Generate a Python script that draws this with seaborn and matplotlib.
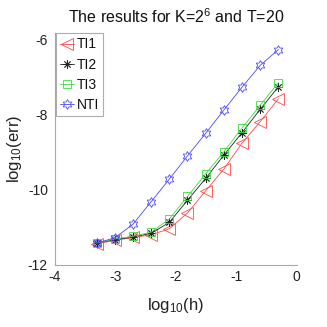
import numpy as np
import pandas as pd
import matplotlib
matplotlib.use("Agg")
import matplotlib.pyplot as plt
from matplotlib.path import Path
import seaborn as sns

# ---- data ----
log_h = [-3.311, -3.010, -2.709, -2.408, -2.107, -1.806, -1.505, -1.204, -0.903, -0.602, -0.301]
ti1 = [-11.44, -11.35, -11.27, -11.20, -11.04, -10.62, -10.03, -9.45, -8.76, -8.19, -7.58]
ti2 = [-11.42, -11.33, -11.26, -11.16, -10.87, -10.28, -9.70, -9.08, -8.48, -7.86, -7.26]
ti3 = [-11.42, -11.31, -11.24, -11.13, -10.78, -10.18, -9.58, -8.99, -8.36, -7.75, -7.15]
nti = [-11.42, -11.28, -10.92, -10.32, -9.72, -9.10, -8.50, -7.88, -7.27, -6.69, -6.27]
series_names = ["TI1", "TI2", "TI3", "NTI"]
x_ticks = [-4, -3, -2, -1, 0]
y_ticks = [-12, -10, -8, -6]

sns.set_theme(style="white")
plt.rcParams["font.family"] = ["Liberation Sans", "DejaVu Sans"]
plt.rcParams["mathtext.fontset"] = "custom"
plt.rcParams["mathtext.rm"] = "Liberation Sans"
plt.rcParams["mathtext.it"] = "Liberation Sans:italic"
plt.rcParams["mathtext.bf"] = "Liberation Sans:bold"

# hexagram marker (outline of six-pointed star)
ang = np.deg2rad(90 + 30 * np.arange(12))
rad = np.where(np.arange(12) % 2 == 0, 1.0, 1 / np.sqrt(3))
verts = np.column_stack([rad * np.cos(ang), rad * np.sin(ang)])
verts = np.vstack([verts, verts[:1]])
hexagram = Path(verts, closed=True)

df = pd.DataFrame({"x": log_h * 4,
                   "y": ti1 + ti2 + ti3 + nti,
                   "s": sum([[n] * len(log_h) for n in series_names], [])})

styles = {
    "TI1": dict(color="#ff4a4a", marker="<", ms=9),
    "TI2": dict(color="#222222", marker=(8, 2, 0), ms=6),
    "TI3": dict(color="#3ddc3d", marker="s", ms=6),
    "NTI": dict(color="#4a4aff", marker=hexagram, ms=7),
}

fig = plt.figure(figsize=(3.27, 3.27), dpi=100)
ax = fig.add_axes([0.168, 0.190, 0.739, 0.709])

for name in series_names:
    st = styles[name]
    sub = df[df["s"] == name]
    sns.lineplot(data=sub, x="x", y="y", ax=ax, color=st["color"], marker=st["marker"],
                 markersize=st["ms"], markerfacecolor="none", markeredgecolor=st["color"],
                 markeredgewidth=0.6, linewidth=0.6, label=name)

ax.set_xlim(-4, 0)
ax.set_ylim(-12, -5.83)
ax.set_xticks(x_ticks)
ax.set_yticks(y_ticks)
ax.set_xticklabels([str(t) for t in x_ticks])
ax.set_yticklabels([str(t) for t in y_ticks])
for side in ["top", "right"]:
    ax.spines[side].set_visible(False)
for side in ["left", "bottom"]:
    ax.spines[side].set_color("#a8a8a8")
    ax.spines[side].set_linewidth(0.8)
ax.tick_params(direction="in", length=2.5, width=0.6, color="#a8a8a8",
               labelsize=10, labelcolor="#222222", pad=4)
ax.tick_params(axis="y", pad=5)
ax.set_xlabel("log$_{10}$(h)", fontsize=12, color="#222222", labelpad=8)
ax.set_ylabel("log$_{10}$(err)", fontsize=12, color="#222222", labelpad=3)
ax.set_title("The results for K=2$^{6}$ and T=20", fontsize=11.5, color="#111111", pad=7)

leg = ax.legend(loc="upper left", bbox_to_anchor=(0.0, 1.005), borderaxespad=0.1,
                fontsize=10, frameon=True, fancybox=False, handlelength=1.0,
                handletextpad=0.15, borderpad=0.3, labelspacing=0.45)
leg.get_frame().set_edgecolor("#999999")
leg.get_frame().set_linewidth(0.8)
for t in leg.get_texts():
    t.set_color("#111111")

fig.savefig("out.png", dpi=100)
